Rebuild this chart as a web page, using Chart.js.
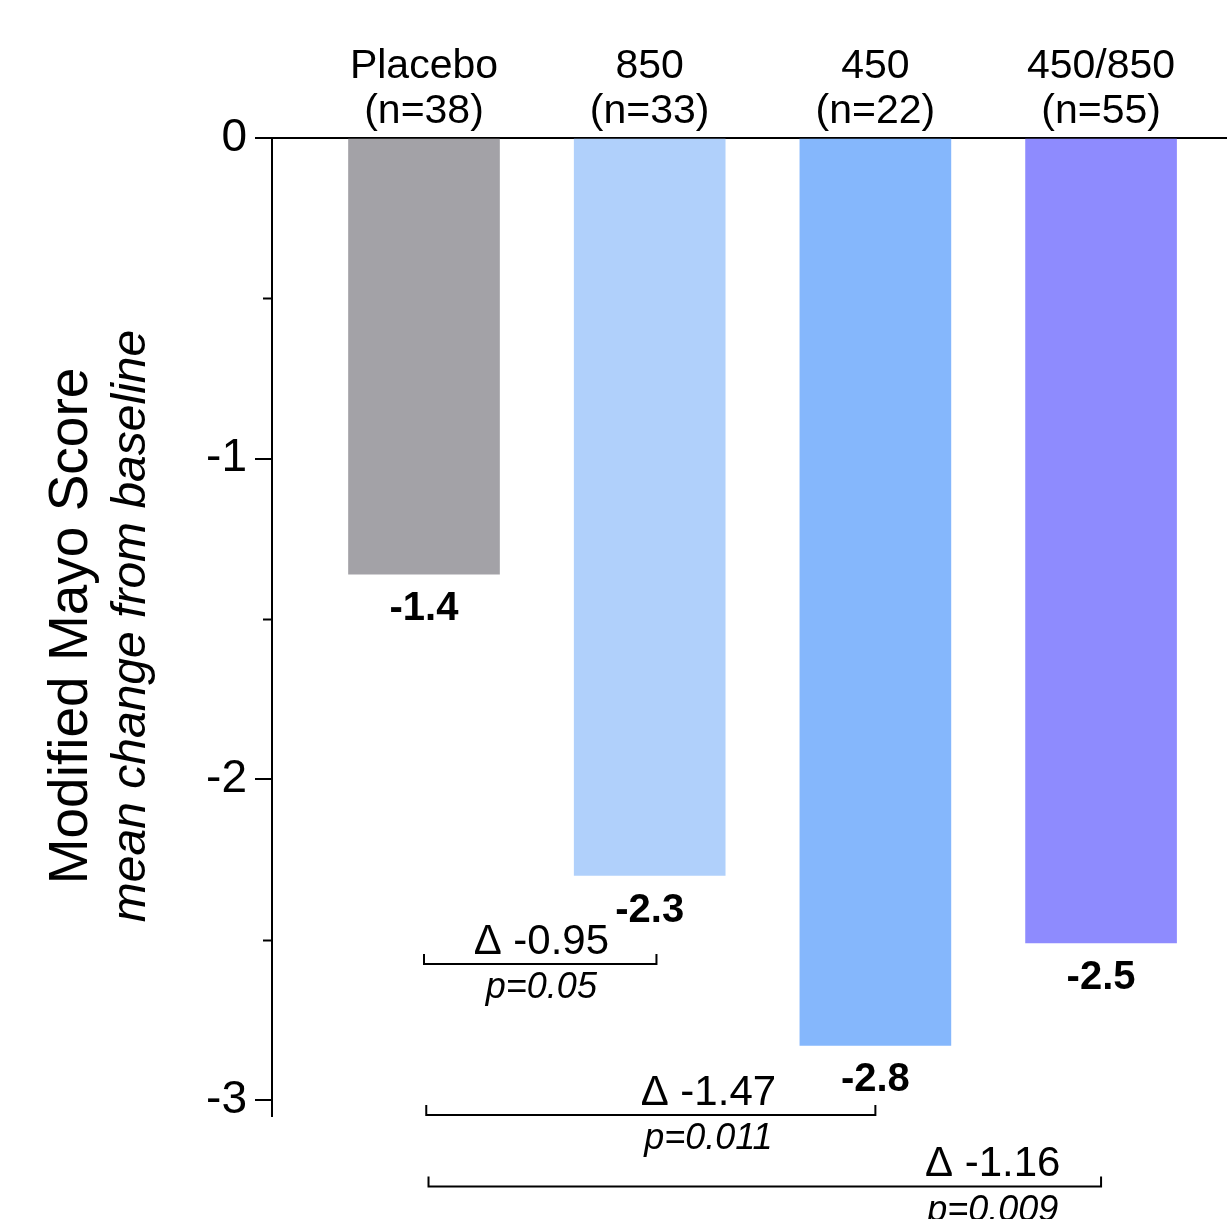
<!DOCTYPE html>
<html>
<head>
<meta charset="utf-8">
<script src="https://cdn.jsdelivr.net/npm/chart.js@4"></script>
<style>
  html, body { margin: 0; padding: 0; background: #fff; }
  #wrap { width: 1227px; height: 1219px; position: relative; }
</style>
</head>
<body>
<div id="wrap"><canvas id="mayoChart"></canvas></div>
<script>
// ─── Data ─────────────────────────────────────────────────────────────────────
const groupNames   = ['Placebo', '850', '450', '450/850'];
const groupN       = ['(n=38)', '(n=33)', '(n=22)', '(n=55)'];
const barPositions = [1, 2, 3, 4];
const meanChange   = [-1.36, -2.30, -2.83, -2.51];
const valueLabels  = ['-1.4', '-2.3', '-2.8', '-2.5'];
const barColors    = ['#a3a2a7', '#b0d0fb', '#85b7fc', '#8e8bfe'];

const yMajorTicks = [0, -1, -2, -3];
const yMinorTicks = [-0.5, -1.5, -2.5];

// comparisons vs placebo
const deltaLabels  = ['Δ -0.95', 'Δ -1.47', 'Δ -1.16'];
const pLabels      = ['p=0.05', 'p=0.011', 'p=0.009'];
const bracketFrom  = [1, 1.01, 1.02];
const bracketTo    = [2.03, 3, 4];
const bracketLevel = [-2.576, -3.047, -3.27];
const labelAt      = [1.52, 2.26, 3.52];

const FONT = '"Liberation Sans", Arial, Helvetica, sans-serif';

// ─── Overlay: minor ticks, value labels, axis title, brackets ────────────────
const overlay = {
  id: 'overlay',
  afterDraw(chart) {
    const { ctx, scales: { x, y }, chartArea } = chart;
    ctx.save();
    ctx.strokeStyle = '#000';
    ctx.fillStyle = '#000';
    ctx.lineWidth = 2;

    // minor ticks
    yMinorTicks.forEach(v => {
      const py = Math.round(y.getPixelForValue(v)) + 0.5;
      ctx.beginPath();
      ctx.moveTo(chartArea.left - 9, py);
      ctx.lineTo(chartArea.left, py);
      ctx.stroke();
    });

    // value labels under bars
    ctx.textAlign = 'center';
    ctx.textBaseline = 'middle';
    ctx.font = `bold 40px ${FONT}`;
    meanChange.forEach((v, i) => {
      ctx.fillText(valueLabels[i], x.getPixelForValue(barPositions[i]), y.getPixelForValue(v) + 35);
    });

    // brackets
    bracketLevel.forEach((lvl, i) => {
      const x1 = x.getPixelForValue(bracketFrom[i]);
      const x2 = x.getPixelForValue(bracketTo[i]);
      const py = y.getPixelForValue(lvl);
      ctx.beginPath();
      ctx.moveTo(x1, py - 10);
      ctx.lineTo(x1, py);
      ctx.lineTo(x2, py);
      ctx.lineTo(x2, py - 10);
      ctx.stroke();
      const tx = x.getPixelForValue(labelAt[i]);
      ctx.font = `42px ${FONT}`;
      ctx.fillText(deltaLabels[i], tx, py - 22);
      ctx.font = `italic 36px ${FONT}`;
      ctx.fillText(pLabels[i], tx, py + 24);
    });

    // y axis title (two lines, rotated)
    const cy = (y.getPixelForValue(-0.5) + y.getPixelForValue(-2.5)) / 2 + 7;
    ctx.translate(72, cy);
    ctx.rotate(-Math.PI / 2);
    ctx.font = `55px ${FONT}`;
    ctx.fillText('Modified Mayo Score', 0, 0);
    ctx.font = `italic 48px ${FONT}`;
    ctx.fillText('mean change from baseline', 0, 60);
    ctx.restore();
  }
};

// ─── Chart ────────────────────────────────────────────────────────────────────
const ctx = document.getElementById('mayoChart').getContext('2d');
const mayoChart = new Chart(ctx, {
  type: 'bar',
  data: {
    datasets: [{
      data: barPositions.map((p, i) => ({ x: p, y: meanChange[i] })),
      backgroundColor: barColors,
      borderWidth: 0,
      barThickness: 151,
      base: 0
    }]
  },
  options: {
    responsive: true, maintainAspectRatio: false,
    animation: false,
    layout: { padding: { left: 0, right: 0, top: 0, bottom: 103 } },
    plugins: { legend: { display: false }, tooltip: { enabled: false } },
    scales: {
      x: {
        type: 'linear',
        position: 'top',
        offset: false,
        min: 0.3265, max: 4.558,
        afterBuildTicks(scale) { scale.ticks = barPositions.map(v => ({ value: v })); },
        afterFit(scale) { scale.height = 138; },
        grid: { display: false, drawTicks: false, offset: false },
        border: { display: true, color: '#000', width: 2 },
        ticks: {
          color: '#000',
          font: { family: FONT, size: 41, lineHeight: 1.1 },
          padding: 4,
          maxRotation: 0,
          autoSkip: false,
          callback: (v) => {
            const i = barPositions.indexOf(v);
            return i < 0 ? '' : [groupNames[i], groupN[i]];
          }
        }
      },
      y: {
        type: 'linear',
        min: -3.05, max: 0,
        afterBuildTicks(scale) { scale.ticks = yMajorTicks.map(v => ({ value: v })); },
        afterFit(scale) { scale.width = 272; },
        grid: { display: true, drawOnChartArea: false, drawTicks: true, tickLength: 17, color: '#000', lineWidth: 2 },
        border: { display: true, color: '#000', width: 2 },
        ticks: {
          color: '#000',
          font: { family: FONT, size: 46 },
          padding: 8,
          callback: (v) => String(v)
        }
      }
    }
  },
  plugins: [overlay]
});
</script>
</body>
</html>
